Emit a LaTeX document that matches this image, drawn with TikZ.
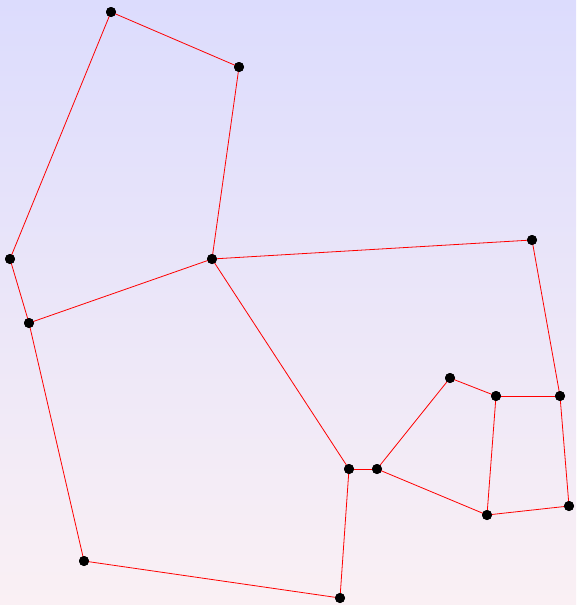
\documentclass[tikz,border=0pt]{standalone}
\begin{document}
\begin{tikzpicture}[x=1pt,y=-1pt,
  dot/.style={circle,fill=black,inner sep=0pt,minimum size=10pt},
  edge/.style={draw=red,line width=0.8pt}]
\definecolor{topc}{HTML}{DCDCFD}
\definecolor{botc}{HTML}{FAF0F4}
\shade[top color=topc,bottom color=botc] (0,0) rectangle (576,605);
\useasboundingbox (0,0) rectangle (576,605);
\node[dot] (A) at (111,12) {};
\node[dot] (B) at (239,67) {};
\node[dot] (C) at (10,259) {};
\node[dot] (D) at (212,259) {};
\node[dot] (E) at (532,240) {};
\node[dot] (F) at (29,323) {};
\node[dot] (G) at (450,378) {};
\node[dot] (H) at (496,396) {};
\node[dot] (I) at (560,396) {};
\node[dot] (J) at (349,469) {};
\node[dot] (K) at (377,469) {};
\node[dot] (L) at (487,515) {};
\node[dot] (M) at (569,506) {};
\node[dot] (N) at (84,561) {};
\node[dot] (O) at (340,598) {};
\begin{scope}[on background layer/.style={}]
\foreach \a/\b in {A/B,A/C,B/D,C/F,D/F,D/E,D/J,F/N,N/O,O/J,J/K,K/G,K/L,G/H,H/I,H/L,L/M,M/I,I/E}
  \draw[edge] (\a.center) -- (\b.center);
\end{scope}
\foreach \n in {A,B,C,D,E,F,G,H,I,J,K,L,M,N,O}
  \fill (\n) circle (5pt);
\end{tikzpicture}
\end{document}
